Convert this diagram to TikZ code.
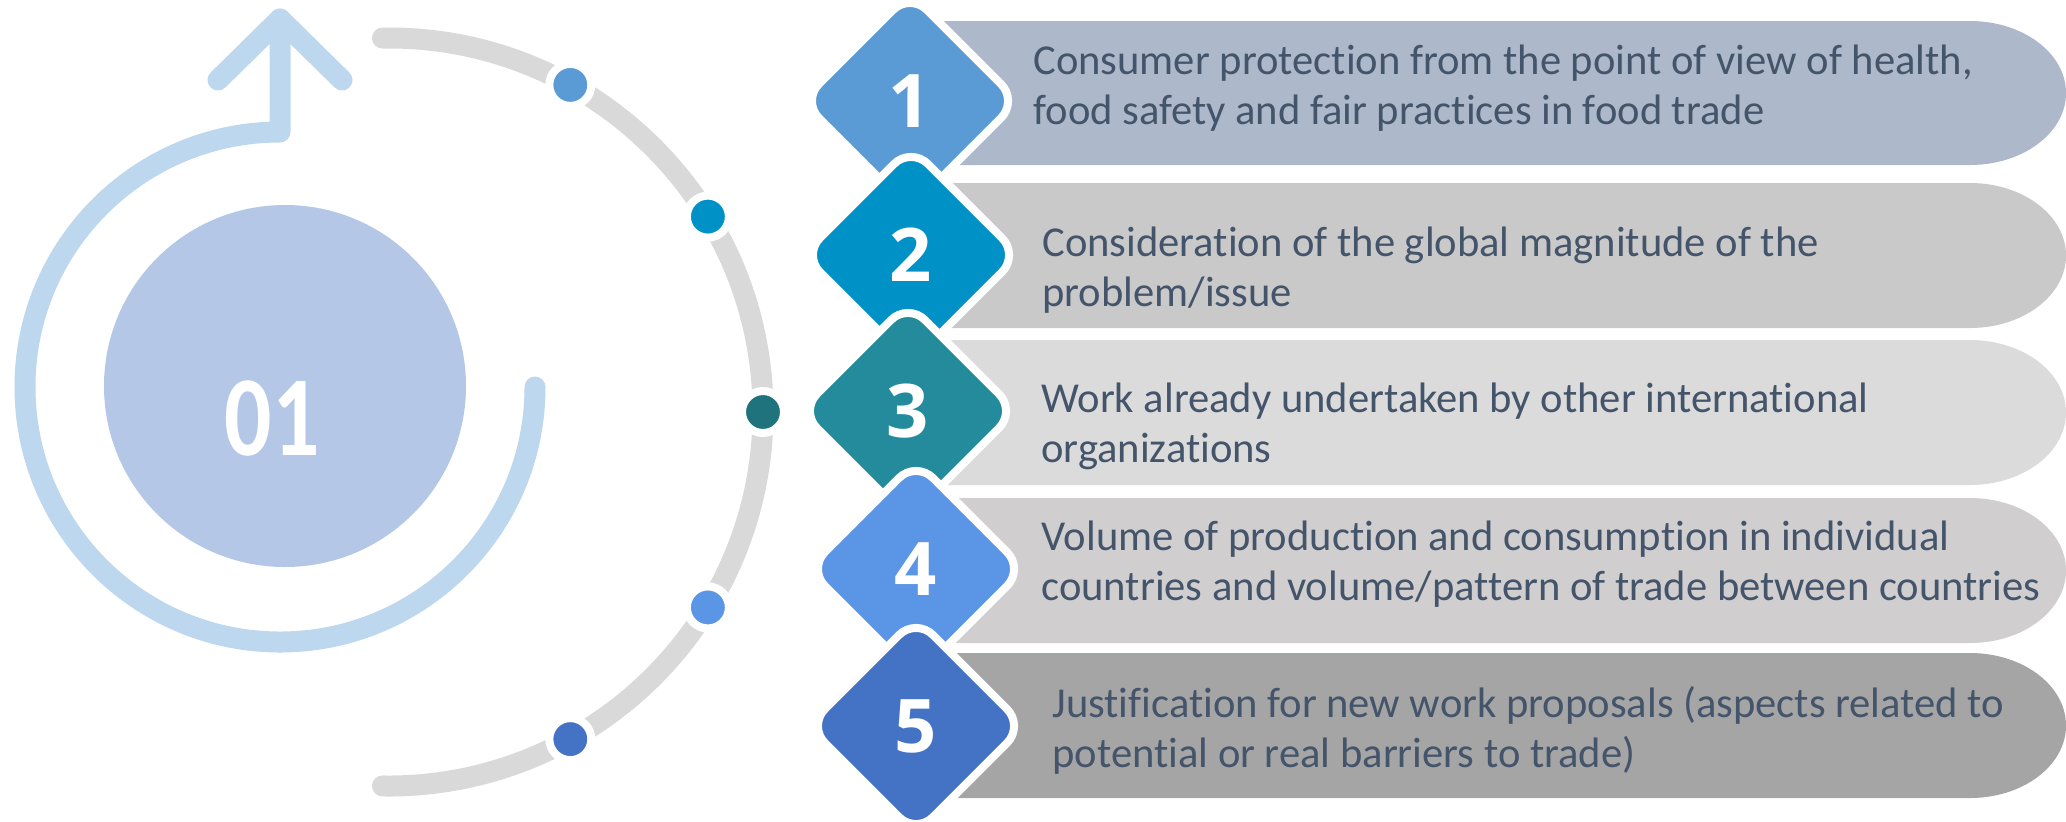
\documentclass[tikz,border=0pt]{standalone}
\usepackage{fontspec}
\setmainfont{Carlito}[RawFeature={-liga;-clig;-calt}]
\newfontfamily\digitfont{Open Sans}
\definecolor{ringblue}{HTML}{BDD7EE}
\definecolor{bigcirc}{HTML}{B4C7E7}
\definecolor{grayring}{HTML}{D9D9D9}
\definecolor{cA}{HTML}{5B9BD5}
\definecolor{cB}{HTML}{0091C6}
\definecolor{cCdot}{HTML}{1F737D}
\definecolor{cC}{HTML}{238B9B}
\definecolor{cD}{HTML}{5B96E6}
\definecolor{cE}{HTML}{4472C4}
\definecolor{banA}{HTML}{ADB9CA}
\definecolor{banB}{HTML}{C9C9C9}
\definecolor{banC}{HTML}{DBDBDB}
\definecolor{banD}{HTML}{D0CECE}
\definecolor{banE}{HTML}{A5A5A5}
\definecolor{textc}{HTML}{44546A}
\begin{document}
\begin{tikzpicture}[x=0.5pt,y=-0.5pt,
  txt/.style={anchor=base west, align=left, text=textc, inner sep=0pt,
              font=\fontsize{21.3}{25}\selectfont},
  digit/.style={text=white, inner sep=0pt, font=\digitfont\bfseries\fontsize{37}{40}\selectfont},
  dia/.style={draw=white, line width=4pt, rounded corners=12pt},
  dotmark/.style={draw=white, line width=4pt},
  thickline/.style={line width=10.5pt, line cap=round, line join=round}]
\useasboundingbox (0,0) rectangle (2066,821);

% ---------- left part ----------
\fill[bigcirc] (285,386) circle[radius=181];
\node[text=white, inner sep=0pt, font=\bfseries\fontsize{57}{60}\selectfont] (num) at (272,418) {\scalebox{0.82}[1]{01}};

\draw[ringblue, thickline] (535,387) arc[start angle=0, end angle=270, radius=255] -- (280,19);
\draw[ringblue, thickline] (218,80) -- (280,19) -- (342,80);

\coordinate (gc) at (389,412);
\draw[grayring, thickline] (gc) ++(-91:374) arc[start angle=-91, end angle=91, radius=374];

\foreach \a/\c [count=\i] in {-61/cA, -31.5/cB, 0/cCdot, 31.5/cD, 61/cE}{
  \path (gc) ++(\a:374) coordinate (dot\i);
  \filldraw[dotmark, fill=\c] (dot\i) circle[radius=21];
}

% ---------- banners ----------
\fill[banA] (905,21) -- (1970,21) arc[start angle=-90, end angle=90, x radius=96, y radius=72] -- (905,165) -- cycle;
\fill[banB] (905,183) -- (1970,183) arc[start angle=-90, end angle=90, x radius=96, y radius=72.5] -- (905,328) -- cycle;
\fill[banC] (905,340) -- (1970,340) arc[start angle=-90, end angle=90, x radius=96, y radius=72.5] -- (905,485) -- cycle;
\fill[banD] (905,498) -- (1970,498) arc[start angle=-90, end angle=90, x radius=96, y radius=72.5] -- (905,643) -- cycle;
\fill[banE] (905,653) -- (1970,653) arc[start angle=-90, end angle=90, x radius=96, y radius=72.5] -- (905,798) -- cycle;

% ---------- diamonds ----------
\foreach \x/\y/\c [count=\n] in {910/101/cA, 911/255/cB, 908/411/cC, 916/569/cD, 916/726/cE}{
  \filldraw[dia, fill=\c] (\x,\y-108) -- (\x+108,\y) -- (\x,\y+108) -- (\x-108,\y) -- cycle;
  \node[digit] (dg\n) at (\x,\y) {\n};
}

% ---------- texts (anchor = baseline of the last line) ----------
\node[txt] (t1) at (1033,124) {Consumer protection from the point of view of health,\\food safety and fair practices in food trade};
\node[txt] (t2) at (1042,306) {Consideration of the global magnitude of the\\problem/issue};
\node[txt] (t3) at (1041,462) {Work already undertaken by other international\\organizations};
\node[txt] (t4) at (1041,600) {Volume of production and consumption in individual\\countries and volume/pattern of trade between countries};
\node[txt] (t5) at (1052,767) {Justification for new work proposals (aspects related to\\potential or real barriers to trade)};
\end{tikzpicture}
\end{document}
